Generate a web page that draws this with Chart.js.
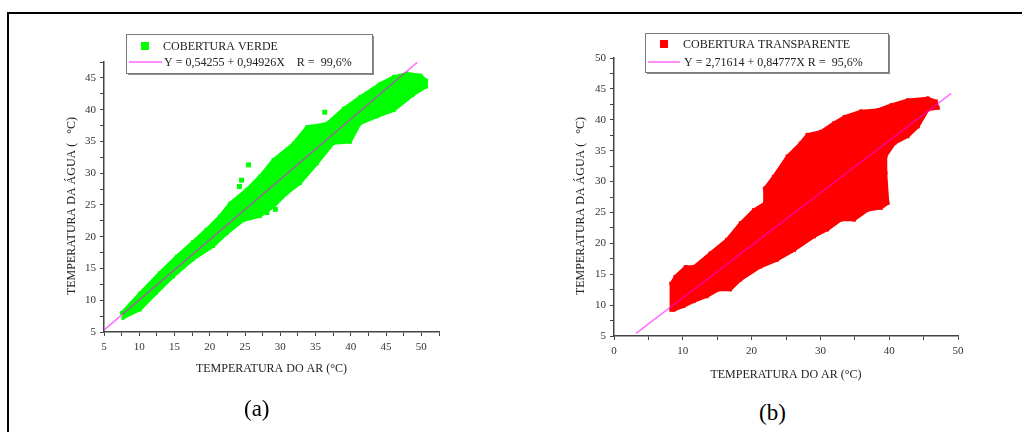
<!DOCTYPE html>
<html>
<head>
<meta charset="utf-8">
<script src="https://cdn.jsdelivr.net/npm/chart.js@4.4.1/dist/chart.umd.min.js"></script>
<style>
  html, body { margin: 0; padding: 0; background: #fff; }
  body { width: 1022px; height: 432px; position: relative; overflow: hidden; }
  #moldura { position: absolute; left: 7px; top: 12px; width: 1030px; height: 440px;
             border-top: 2px solid #000; border-left: 2px solid #000; }
  canvas { position: absolute; }
  #cA { left: 20px; top: 20px; }
  #cB { left: 530px; top: 20px; }
  .rotulo { position: absolute; font-family: "Liberation Serif", "Times New Roman", serif;
            font-size: 23px; color: #000; }
</style>
</head>
<body>
<div id="moldura"></div>
<canvas id="cA" width="470" height="380"></canvas>
<canvas id="cB" width="470" height="380"></canvas>
<div class="rotulo" style="left:244px; top:396px;">(a)</div>
<div class="rotulo" style="left:759px; top:400px;">(b)</div>
<script>
// ---- (a) cobertura verde: contorno da nuvem de pontos
const verdeX = [7.5, 10.1, 12.9, 15.3, 17.6, 19.5, 21.4, 22.9, 25.2, 27.1, 29.0, 31.9, 33.8, 36.6, 39.0,
  41.3, 44.2, 46.1, 48.0, 49.9, 50.7, 50.7, 48.8, 46.1, 43.7, 41.3, 39.9, 37.5, 35.2, 32.8, 30.9,
  29.0, 27.1, 24.8, 22.4, 20.5, 17.6, 14.8, 12.4, 10.1, 7.7];
const verdeY = [8.0, 11.1, 14.3, 16.9, 19.2, 21.1, 23.2, 25.3, 27.4, 29.5, 32.1, 34.7, 37.3, 37.8, 40.2,
  42.0, 44.1, 45.2, 45.7, 45.4, 44.6, 43.6, 42.3, 39.9, 38.9, 37.8, 34.9, 34.7, 31.5, 28.4, 26.8,
  24.7, 23.2, 22.6, 20.5, 18.5, 16.4, 13.7, 11.1, 8.5, 7.2];
// pontos isolados fora da nuvem
const verdeAvulsoX = [25.5, 24.5, 24.2, 29.3, 28.1, 32.5, 36.3];
const verdeAvulsoY = [31.3, 28.9, 27.9, 24.3, 23.8, 35.1, 39.6];
// reta de ajuste: Y = a + bX, extremos em X
const ajusteVerde = [0.54255, 0.94926];
const ajusteVerdeX = [5, 49.4];

// ---- (b) cobertura transparente
const transpX = [8.3, 8.3, 8.9, 10.4, 11.6, 14.0, 16.4, 18.4, 20.3, 21.9, 21.9, 23.2, 25.2, 27.1, 28.1,
  30.1, 32.0, 33.5, 35.9, 38.3, 40.3, 42.7, 45.6, 46.8, 47.1, 45.6, 44.2, 42.7, 40.8, 39.5, 39.5,
  39.8, 38.8, 36.9, 34.9, 33.0, 31.0, 29.1, 26.2, 23.7, 21.3, 18.4, 16.9, 15.2, 13.5, 11.6, 10.1, 8.7];
const transpY = [9.2, 13.5, 14.6, 16.2, 16.2, 18.4, 20.6, 23.3, 25.4, 26.5, 28.9, 30.8, 34.1, 36.2, 37.6,
  38.1, 39.5, 40.5, 41.4, 41.6, 42.4, 43.2, 43.5, 43.0, 41.9, 41.6, 38.9, 37.3, 36.2, 34.1, 31.4,
  26.5, 25.7, 25.4, 23.8, 23.8, 22.2, 21.1, 18.9, 17.3, 16.2, 14.1, 12.5, 12.5, 11.4, 10.6, 9.8, 9.2];
const ajusteTransp = [2.71614, 0.84777];
const ajusteTranspX = [3.2, 49.0];

const fonte = '"Liberation Serif", "Times New Roman", serif';
const tituloY = "TEMPERATURA DA ÁGUA (   °C)\u00a0\u00a0\u00a0\u00a0\u00a0\u00a0";

function pares(xs, ys) {
  return xs.map((x, i) => ({ x: x, y: ys[i] }));
}
function reta(coef, xs) {
  return xs.map((x) => ({ x: x, y: coef[0] + coef[1] * x }));
}

// caixa de legenda no estilo Origin
const legendaCaixa = {
  id: "legendaCaixa",
  afterDraw(chart, args, o) {
    const ctx = chart.ctx;
    ctx.save();
    ctx.fillStyle = "#8c8c8c";
    ctx.fillRect(o.x + 2, o.y + 2, o.w, o.h);
    ctx.fillStyle = "#fff";
    ctx.fillRect(o.x, o.y, o.w, o.h);
    ctx.strokeStyle = "#7a7a7a";
    ctx.lineWidth = 1;
    ctx.strokeRect(o.x + 0.5, o.y + 0.5, o.w, o.h);
    ctx.font = "12px " + fonte;
    ctx.textBaseline = "middle";
    // linha 1: marcador quadrado
    ctx.fillStyle = o.cor;
    ctx.fillRect(o.sq - 4, o.y1 - 4, 8, 8);
    ctx.fillStyle = "#222";
    ctx.fillText(o.t1, o.tx1, o.y1 + 1);
    // linha 2: reta
    ctx.strokeStyle = "rgba(255,0,255,0.6)";
    ctx.lineWidth = 1.5;
    ctx.beginPath();
    ctx.moveTo(o.l0, o.y2);
    ctx.lineTo(o.l1, o.y2);
    ctx.stroke();
    ctx.fillText(o.t2, o.tx2, o.y2 + 1);
    ctx.restore();
  },
};

function eixo(min, max, passo, rotuloCada, titulo, titPad, tamanho, horizontal) {
  return {
    type: "linear",
    min: min,
    max: max,
    border: { display: true, color: "#444", width: 1.5 },
    grid: { display: true, drawOnChartArea: false, drawTicks: true, tickLength: 4, color: "#444", lineWidth: 1 },
    ticks: {
      stepSize: passo,
      autoSkip: false,
      maxRotation: 0,
      padding: horizontal ? 5 : 4,
      color: "#333",
      font: { family: fonte, size: 11 },
      callback: (v) => (Math.abs(v % rotuloCada) < 1e-9 ? String(v) : ""),
    },
    title: { display: true, text: titulo, color: "#222", font: { family: fonte, size: 12 }, padding: titPad },
    afterFit: (s) => {
      if (horizontal) s.height = tamanho;
      else s.width = tamanho;
    },
  };
}

function grafico(id, cfg) {
  return new Chart(document.getElementById(id), {
    type: "scatter",
    data: {
      datasets: [
        {
          label: "ajuste",
          data: cfg.reta,
          showLine: true,
          borderColor: "rgba(255,0,255,0.55)",
          borderWidth: 1.6,
          pointRadius: 0,
          order: 0,
        },
        {
          label: "avulsos",
          data: cfg.avulsos,
          pointStyle: "rect",
          pointRadius: 3.5,
          backgroundColor: cfg.cor,
          borderColor: cfg.cor,
          borderWidth: 0,
          order: 1,
        },
        {
          label: "nuvem",
          data: cfg.nuvem,
          showLine: true,
          fill: "shape",
          tension: 0,
          backgroundColor: cfg.cor,
          borderColor: cfg.cor,
          borderWidth: 3,
          borderJoinStyle: "round",
          pointStyle: "rect",
          pointRadius: 2.5,
          pointBackgroundColor: cfg.cor,
          pointBorderWidth: 0,
          order: 2,
        },
      ],
    },
    options: {
      responsive: false,
      animation: false,
      events: [],
      layout: { padding: cfg.padding },
      plugins: { legend: { display: false }, tooltip: { enabled: false }, legendaCaixa: cfg.legenda },
      scales: { x: cfg.x, y: cfg.y },
    },
    plugins: [legendaCaixa],
  });
}

grafico("cA", {
  cor: "#00ff00",
  nuvem: pares(verdeX, verdeY),
  avulsos: pares(verdeAvulsoX, verdeAvulsoY),
  reta: reta(ajusteVerde, ajusteVerdeX),
  padding: { left: 40, right: 51, top: 42, bottom: 0 },
  x: eixo(5, 52.5, 2.5, 5, "TEMPERATURA DO AR (°C)", { top: 2, bottom: 24 }, 68, true),
  y: eixo(5, 47.5, 2.5, 5, tituloY, { top: 5, bottom: 2 }, 44, false),
  legenda: {
    x: 106, y: 14, w: 246, h: 39, cor: "#00ff00",
    sq: 125, y1: 26, tx1: 143, t1: "COBERTURA VERDE",
    l0: 109, l1: 142, y2: 42, tx2: 144, t2: "Y = 0,54255 + 0,94926X    R =  99,6%",
  },
});

grafico("cB", {
  cor: "#ff0000",
  nuvem: pares(transpX, transpY),
  avulsos: [],
  reta: reta(ajusteTransp, ajusteTranspX),
  padding: { left: 40, right: 42, top: 38, bottom: 0 },
  x: eixo(0, 50, 5, 10, "TEMPERATURA DO AR (°C)", { top: 2, bottom: 18 }, 64, true),
  y: eixo(5, 50, 2.5, 5, tituloY, { top: 4, bottom: 2 }, 44, false),
  legenda: {
    x: 115, y: 13, w: 243, h: 39, cor: "#ff0000",
    sq: 134, y1: 24, tx1: 153, t1: "COBERTURA TRANSPARENTE",
    l0: 118, l1: 150, y2: 42, tx2: 154, t2: "Y = 2,71614 + 0,84777X R =  95,6%",
  },
});
</script>
</body>
</html>
